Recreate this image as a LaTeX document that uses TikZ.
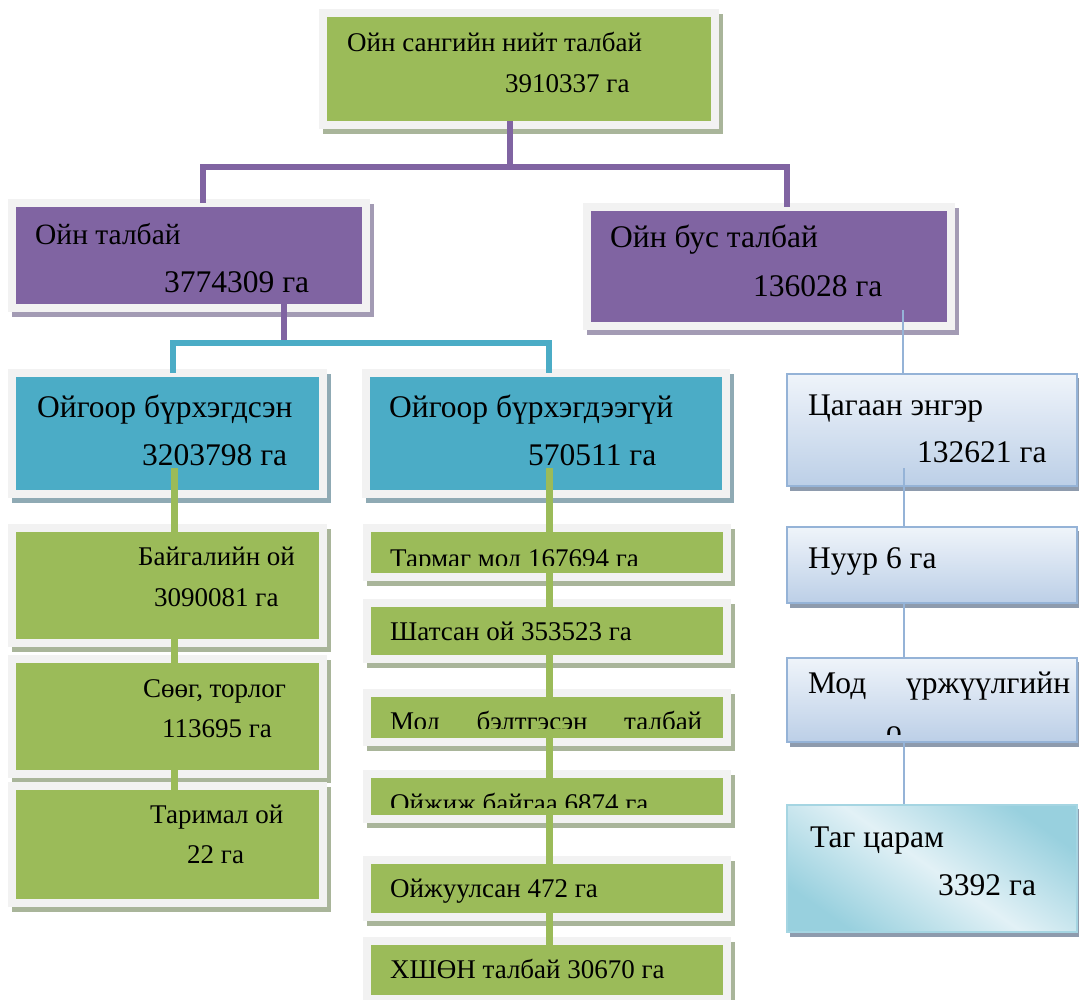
\documentclass[tikz,border=0pt]{standalone}
\usepackage{fontspec}
\setmainfont{Liberation Serif}
\usetikzlibrary{calc,fit}
\definecolor{ogreen}{HTML}{9BBB59}
\definecolor{opurple}{HTML}{8064A2}
\definecolor{ocyan}{HTML}{4BACC6}
\definecolor{frame}{HTML}{F2F2F2}
\definecolor{gshadow}{HTML}{A9B59A}
\definecolor{pshadow}{HTML}{A39BB4}
\definecolor{cshadow}{HTML}{8FAAB4}
\definecolor{lblue}{HTML}{95B3D7}
\definecolor{rshadow}{HTML}{8E9BAD}
\definecolor{rtop}{HTML}{EFF4FA}
\definecolor{rbot}{HTML}{BCCFE7}
\definecolor{tagedge}{HTML}{A5D5E2}
\definecolor{tagdark}{HTML}{98D0DE}
\definecolor{taglight}{HTML}{E2F1F6}
\newcommand\fsA{\fontsize{27}{32}\selectfont}
\newcommand\fsB{\fontsize{31.5}{38}\selectfont}
\newcommand\fsC{\fontsize{29.5}{35}\selectfont}
% office-like framed box: name, x1, y1, x2, y2, fill, shadow
\newcommand\obox[7]{%
  \fill[#7] (#2-4,#3-3) rectangle (#4+12,#5+13);
  \fill[frame] (#2-8,#3-8) rectangle (#4+8,#5+8);
  \node[fit={(#2,#3) (#4,#5)}, inner sep=0pt, fill=#6] (#1) {};
}
% light blue gradient box: name, x1, y1, x2, y2
\newcommand\rbox[5]{%
  \fill[rshadow] (#2+3,#3+4) rectangle (#4+3,#5+5);
  \node[fit={(#2,#3) (#4,#5)}, inner sep=0pt, top color=rtop, bottom color=rbot,
        draw=lblue, line width=2pt] (#1) {};
}
\tikzset{
  pline/.style={draw=opurple, line width=6pt},
  cline/.style={draw=ocyan, line width=6pt},
  gline/.style={draw=ogreen, line width=7pt},
  bline/.style={draw=lblue, line width=2pt},
  txt/.style={anchor=base west, inner sep=0pt, text=black},
}
\begin{document}
\begin{tikzpicture}[x=1pt,y=-1pt]
\fill[white] (0,0) rectangle (1079,1000);
\useasboundingbox (0,0) rectangle (1079,1000);

% ---------- boxes ----------
\obox{top}{327}{17}{711}{121}{ogreen}{gshadow}
\obox{ojt}{16}{207}{362}{304}{opurple}{pshadow}
\obox{obt}{591}{211}{947}{322}{opurple}{pshadow}
\obox{cl}{16}{377}{319}{490}{ocyan}{cshadow}
\obox{cr}{370}{377}{722}{490}{ocyan}{cshadow}

\obox{g1}{16}{532}{319}{639}{ogreen}{gshadow}
\obox{g2}{16}{663}{319}{770}{ogreen}{gshadow}
\obox{g3}{16}{790}{319}{899}{ogreen}{gshadow}

\obox{m1}{371}{532}{723}{573}{ogreen}{gshadow}
\obox{m2}{371}{607}{723}{655}{ogreen}{gshadow}
\obox{m3}{371}{697}{723}{738}{ogreen}{gshadow}
\obox{m4}{371}{778}{723}{815}{ogreen}{gshadow}
\obox{m5}{371}{864}{723}{913}{ogreen}{gshadow}
\obox{m6}{371}{945}{723}{995}{ogreen}{gshadow}

\rbox{r1}{787}{374}{1077}{486}
\rbox{r2}{787}{527}{1077}{603}
\rbox{r3}{787}{658}{1077}{742}
\fill[rshadow] (790,809) rectangle (1080,937);
\node[fit={(787,805) (1077,932)}, inner sep=0pt, draw=tagedge, line width=2pt,
      shading=axis, top color=tagdark, bottom color=tagdark, middle color=taglight,
      shading angle=-35] (r4) {};

% ---------- connectors ----------
\coordinate (jt) at (510,167);
\coordinate (jl) at (203,167);
\coordinate (jr) at (787,167);
\draw[pline] (top.south -| jt) -- (jt);
\draw[pline, line join=miter] ([yshift=4pt]ojt.north -| jl) -- (jl) -- (jr) -- ([yshift=4pt]obt.north -| jr);

\coordinate (jc) at (284,343);
\coordinate (jcl) at (173,343);
\coordinate (jcr) at (549,343);
\draw[pline] (ojt.south -| jc) -- ([yshift=3pt]jc);
\draw[cline, line join=miter] ([yshift=4pt]cl.north -| jcl) -- (jcl) -- (jcr) -- ([yshift=4pt]cr.north -| jcr);

\coordinate (gl0) at (174,468);
\draw[gline] (gl0) -- (g1.north -| gl0);
\draw[gline] (g1.south -| gl0) -- (g2.north -| gl0);
\draw[gline] (g2.south -| gl0) -- (g3.north -| gl0);

\coordinate (gm0) at (549,468);
\draw[gline] (gm0) -- (m1.north -| gm0);
\draw[gline] (m1.south -| gm0) -- (m2.north -| gm0);
\draw[gline] (m2.south -| gm0) -- (m3.north -| gm0);
\draw[gline] (m3.south -| gm0) -- (m4.north -| gm0);
\draw[gline] (m4.south -| gm0) -- (m5.north -| gm0);
\draw[gline] (m5.south -| gm0) -- (m6.north -| gm0);

\coordinate (b0) at (903,310);
\coordinate (b1) at (904,468);
\draw[bline] (b0) -- (r1.north -| b0);
\draw[bline] (b1) -- (r2.north -| b1);
\draw[bline] (r2.south -| b1) -- (r3.north -| b1);
\draw[bline] (r3.south -| b1) -- (r4.north -| b1);

% ---------- texts ----------
\node[txt, font=\fsA] (t1) at (347,52) {Ойн сангийн нийт талбай};
\node[txt, font=\fsA] (t2) at (505,93) {3910337 га};

\node[txt, font=\fsC] (p1) at (35,245) {Ойн талбай};
\node[txt, font=\fsB] (p2) at (164,293) {3774309 га};
\node[txt, font=\fsB] (p3) at (610,248) {Ойн бус талбай};
\node[txt, font=\fsB] (p4) at (753,297) {136028 га};

\node[txt, font=\fsB] (c1) at (37,417) {Ойгоор бүрхэгдсэн};
\node[txt, font=\fsB] (c2) at (142,465) {3203798 га};
\node[txt, font=\fsB] (c3) at (389,417) {Ойгоор бүрхэгдээгүй};
\node[txt, font=\fsB] (c4) at (528,465) {570511 га};

\node[txt, font=\fsA] (l1) at (138,565) {Байгалийн ой};
\node[txt, font=\fsA] (l2) at (154,606) {3090081 га};
\node[txt, font=\fsA] (l3) at (143,697) {Сөөг, торлог};
\node[txt, font=\fsA] (l4) at (162,737) {113695 га};
\node[txt, font=\fsA] (l5) at (150,823) {Таримал ой};
\node[txt, font=\fsA] (l6) at (187,863) {22 га};

\begin{scope}
\clip (371,532) rectangle (723,565.5);
\node[txt, font=\fsA] (n1) at (390,567) {Тармаг мод 167694 га};
\end{scope}
\node[txt, font=\fsA] (n2) at (390,640) {Шатсан ой 353523 га};
\begin{scope}
\clip (371,697) rectangle (723,728.5);
\node[txt, font=\fsA] (n3) at (390,730) {\makebox[312pt][s]{Мод бэлтгэсэн талбай}};
\end{scope}
\begin{scope}
\clip (371,778) rectangle (723,807);
\node[txt, font=\fsA] (n4) at (390,812) {Ойжиж байгаа 6874 га};
\end{scope}
\node[txt, font=\fsA] (n5) at (390,897) {Ойжуулсан 472 га};
\node[txt, font=\fsA] (n6) at (390,978) {ХШӨН талбай 30670 га};

\node[txt, font=\fsB] (s1) at (808,415) {Цагаан энгэр};
\node[txt, font=\fsB] (s2) at (917,462) {132621 га};
\node[txt, font=\fsB] (s3) at (808,568) {Нуур 6 га};
\node[txt, font=\fsB] (s4) at (808,693) {\makebox[262pt][s]{Мод үржүүлгийн}};
\begin{scope}
\clip (787,658) rectangle (1077,734);
\node[txt, font=\fsB] (s5) at (886,741) {о};
\end{scope}
\node[txt, font=\fsB] (s6) at (810,847) {Таг царам};
\node[txt, font=\fsB] (s7) at (938,895) {3392 га};
\end{tikzpicture}
\end{document}
